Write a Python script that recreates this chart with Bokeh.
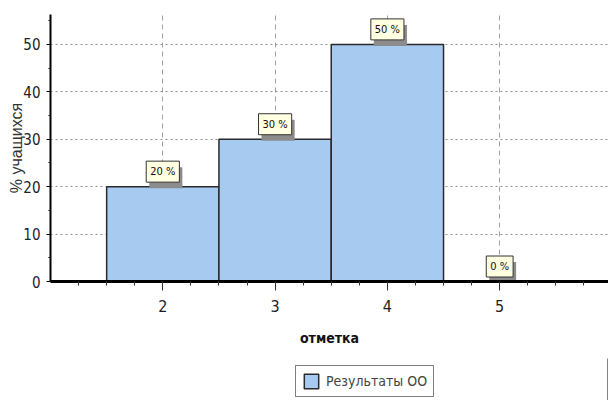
import numpy as np
from bokeh.plotting import figure
from bokeh.layouts import column
from bokeh.models import FixedTicker, Legend, LegendItem, Range1d, ColumnDataSource
from bokeh.core.properties import value
from bokeh.embed import file_html
from bokeh.resources import INLINE

grades = [2, 3, 4, 5]
percent = [20, 30, 50, 0]
label_texts = ["20 %", "30 %", "50 %", "0 %"]
y_ticks = [0, 10, 20, 30, 40, 50]
series_name = "Результаты ОО"
x_title = "отметка"
y_title = "% учащихся"

NARROW = "DejaVu Sans Condensed"
BAR_FILL = "#A6CAF0"
BAR_LINE = "#2a2a2a"

src = ColumnDataSource(dict(x=grades, top=percent, lbl=label_texts))

p = figure(width=608, height=358, output_backend="svg", toolbar_location=None,
           x_range=Range1d(1, 5.969), y_range=Range1d(0, 56.3),
           min_border_left=50, min_border_right=0, min_border_top=14,
           min_border_bottom=77)
p.outline_line_color = None
p.background_fill_color = "white"

# grids
p.xgrid.ticker = FixedTicker(ticks=grades)
p.xgrid.grid_line_color = "#a0a0a0"
p.xgrid.grid_line_dash = "5 4"
p.ygrid.grid_line_color = "#909090"
p.ygrid.grid_line_dash = "2 3"

bars = p.vbar(x="x", top="top", width=1.0, source=src,
              fill_color=BAR_FILL, line_color=BAR_LINE, line_width=1.5)

# value labels: shadow then box
p.text(x="x", y="top", text="lbl", source=src, x_offset=3, y_offset=-9,
       text_alpha=0, background_fill_color="#8c8c8c", padding=4,
       text_align="center", text_baseline="middle",
       text_font=value(NARROW), text_font_size="11px")
p.text(x="x", y="top", text="lbl", source=src, x_offset=0, y_offset=-15,
       text_color="#111111", background_fill_color="#FFFFE1",
       border_line_color="#333333", border_line_width=1, padding=4,
       text_align="center", text_baseline="middle",
       text_font=value(NARROW), text_font_size="11px")

# x axis
xa = p.xaxis[0]
xa.ticker = FixedTicker(ticks=grades, minor_ticks=list(np.arange(1.25, 6.0, 0.25)))
xa.axis_line_width = 3
xa.axis_line_color = "black"
xa.major_tick_in = 0
xa.major_tick_out = 9
xa.minor_tick_in = 0
xa.minor_tick_out = 4
xa.major_tick_line_color = "#333333"
xa.minor_tick_line_color = "#333333"
xa.major_label_standoff = 9
xa.major_label_text_font = NARROW
xa.major_label_text_font_size = "16px"
xa.major_label_text_color = "#222222"
xa.axis_label = x_title
xa.axis_label_text_font = NARROW
xa.axis_label_text_font_style = "bold"
xa.axis_label_text_font_size = "14px"
xa.axis_label_text_color = "#111111"
xa.axis_label_standoff = 15

# y axis
ya = p.yaxis[0]
ya.ticker = FixedTicker(ticks=y_ticks, minor_ticks=[5, 15, 25, 35, 45, 55])
ya.axis_line_width = 2
ya.axis_line_color = "black"
ya.major_tick_in = 0
ya.major_tick_out = 4
ya.minor_tick_in = 0
ya.minor_tick_out = 2
ya.major_label_standoff = 6
ya.major_label_text_font = NARROW
ya.major_label_text_font_size = "15px"
ya.major_label_text_color = "#222222"
ya.axis_label = y_title
ya.axis_label_text_font = "Liberation Sans"
ya.axis_label_text_font_style = "normal"
ya.axis_label_text_font_size = "16px"
ya.axis_label_text_color = "#333333"
ya.axis_label_standoff = -5

# legend in a strip below the chart
p2 = figure(width=608, height=42, output_backend="svg", toolbar_location=None,
            x_range=Range1d(0, 1), y_range=Range1d(0, 1), min_border=0,
            min_border_left=0, min_border_right=0, min_border_top=0,
            min_border_bottom=0, x_axis_location=None, y_axis_location=None)
p2.outline_line_color = None
p2.grid.visible = False
# same bars, but outside this strip's ranges: only the legend key shows
key = p2.vbar(x="x", top="top", width=1.0, source=src,
              fill_color=BAR_FILL, line_color=BAR_LINE, line_width=1.5)
legend = Legend(items=[LegendItem(label=series_name, renderers=[key], index=0)],
                location=(245, 3), orientation="horizontal",
                glyph_width=18, glyph_height=18, label_standoff=6,
                label_text_font=NARROW, label_text_font_size="14px",
                border_line_color="black", border_line_width=1,
                padding=6, spacing=0, margin=0)
p2.add_layout(legend, "center")

layout = column(p, p2, spacing=0)
open("out.html", "w").write(file_html(layout, INLINE))
